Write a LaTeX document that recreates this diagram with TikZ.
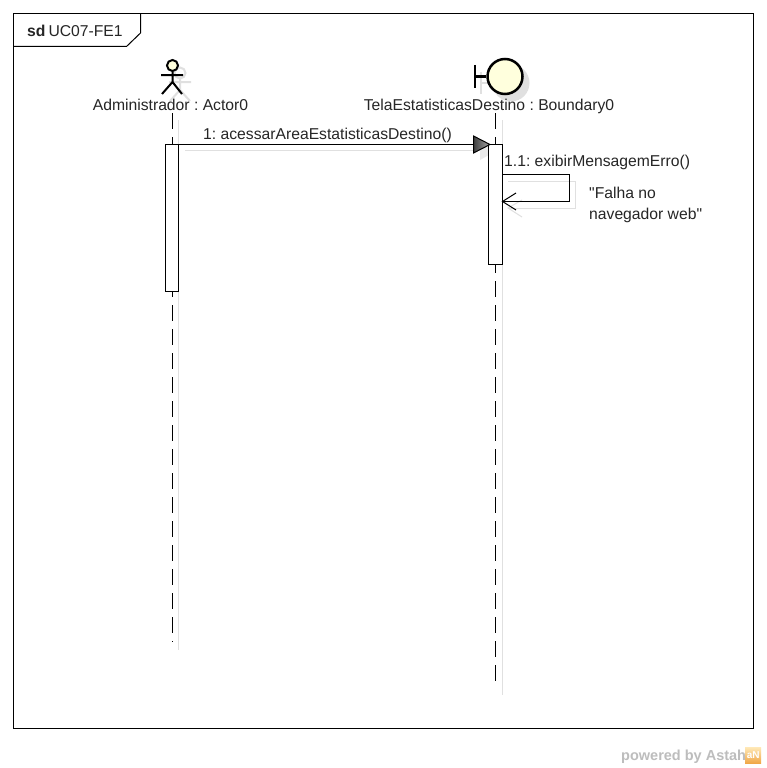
\documentclass[tikz,border=0pt]{standalone}
\usepackage{fontspec}
\newfontfamily\umlfont{Liberation Sans}
\usepackage{xcolor}
\usetikzlibrary{positioning,calc,arrows.meta,shadings}
\definecolor{shadowgray}{HTML}{E0E0E0}
\definecolor{headyellow}{HTML}{FFFFDD}
\definecolor{astahgray}{HTML}{BDBDBD}
\definecolor{astahorange}{HTML}{F0A848}
\definecolor{astahlight}{HTML}{FFE9B8}
\begin{document}
\begin{tikzpicture}[x=1pt,y=-1pt,
	diagramline/.style={draw=black,line width=1pt},
	shadowline/.style={draw=shadowgray,line width=1pt},
	lifeline/.style={draw=black,line width=1pt,dash pattern=on 16pt off 8pt},
	activation/.style={draw=black,line width=1pt,fill=white,rectangle,inner sep=0pt},
	umltext/.style={inner sep=0pt,font=\umlfont\frenchspacing\fontsize{15.7}{15.7}\selectfont,text=black!85}]
\useasboundingbox (0,0) rectangle (766,768);
\fill[white] (0,0) rectangle (766,768);
% frame
\draw[diagramline] (13.5,13.5) rectangle (753.5,728.5);
\draw[diagramline] (13.5,46.5) -- (126.5,46.5) -- (140.5,33) -- (140.5,13.5);
\node[umltext,anchor=base west] (title) at (27,36.5) {\textbf{sd}\hspace{3pt}UC07-FE1};
% shadows
\draw[shadowline,line width=2pt] (180,73) circle (5.5);
\draw[shadowline,line width=2pt] (180,78) -- (180,90) (169,82) -- (191,82) (170,101) -- (180,90) -- (190,101);
\fill[shadowgray] (511,83) circle (18.5);
\draw[shadowline,line width=2.5pt] (481,72) -- (481,94) (481,83) -- (494,83);
\draw[shadowline] (178.5,120) -- (178.5,650);
\draw[shadowline] (502.5,120) -- (502.5,695);
\draw[shadowline] (185,150.5) -- (480,150.5);
\fill[shadowgray!70] (480,143) -- (497,150.5) -- (480,160) -- cycle;
\draw[shadowline] (508,181) -- (575.5,181) -- (575.5,208) -- (508,208);
\draw[shadowline] (522,200) -- (508,208) -- (522,217);
% actor
\coordinate (actorhip) at (172.5,82);
\node[circle,draw=black,line width=2pt,fill=headyellow,minimum size=11pt,inner sep=0pt] (actorhead) at (172.5,65.5) {};
\draw[black,line width=2pt] (actorhead.south) -- (actorhip) (161,75) -- (183,75) (162,94) -- (actorhip) -- (182,94);
% boundary
\node[circle,draw=black,line width=2.5pt,fill=headyellow,minimum size=35pt,inner sep=0pt] (boundaryhead) at (505,76.5) {};
\coordinate (boundarybar) at (475,76.5);
\draw[black,line width=2.5pt] (475,65) -- (475,87.5) (boundarybar) -- (boundaryhead.west);
% labels
\node[umltext,anchor=base] (actorlabel) at (170.5,110.5) {Administrador : Actor0};
\node[umltext,anchor=base] (boundarylabel) at (489,110.5) {TelaEstatisticasDestino : Boundary0};
% lifelines
\coordinate (actortop) at (172.5,113);
\coordinate (actorend) at (172.5,642);
\coordinate (boundarytop) at (495.5,113);
\coordinate (boundaryend) at (495.5,682);
\draw[lifeline] (actortop) -- (actorend);
\draw[lifeline] (boundarytop) -- (boundaryend);
% activations
\node[activation,minimum width=13pt,minimum height=147pt] (actoract) at (172,218) {};
\node[activation,minimum width=14pt,minimum height=120pt] (boundaryact) at (495.5,204.5) {};
% messages
\coordinate (tipfound) at (boundaryact.north west);
\draw[diagramline] (actoract.north east) -- (tipfound);
\path[draw=black,line width=1pt,left color=black!75,right color=black!35] (473.5,136) -- (490,144.5) -- (473.5,153) -- cycle;
\node[umltext,anchor=base west] (msgone) at (203,139) {1: acessarAreaEstatisticasDestino()};
\coordinate (selfstart) at (502.5,174.5);
\coordinate (selfend) at (502.5,201.5);
\draw[diagramline] (selfstart) -- (569,174.5) -- (569,201.5) -- (selfend);
\draw[diagramline] (516,193) -- (selfend) -- (516,210);
\node[umltext,anchor=base west] (msgtwo) at (504,166) {1.1: exibirMensagemErro()};
\node[umltext,anchor=base west] (noteone) at (589,198) {"Falha no};
\node[umltext,anchor=base west] (notetwo) at (589,219) {navegador web"};
% logo
\node[inner sep=0pt,anchor=base west,font=\umlfont\fontsize{14.5}{14.5}\selectfont\bfseries,text=astahgray] (astah) at (621,760) {powered by Astah};
\node[inner sep=0pt,top color=astahlight,bottom color=astahorange,minimum width=16pt,minimum height=16pt,anchor=west,font=\umlfont\fontsize{10}{10}\selectfont\bfseries,text=white] (astahicon) at (745,755) {aN};
\end{tikzpicture}
\end{document}
